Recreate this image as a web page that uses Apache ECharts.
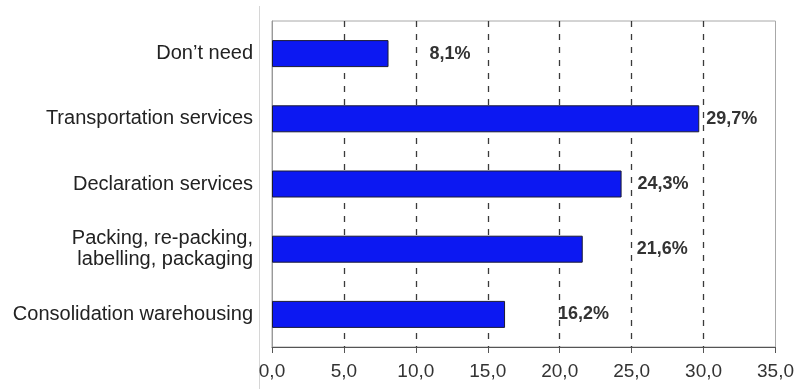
<!DOCTYPE html>
<html>
<head>
<meta charset="utf-8">
<style>
  html, body { margin: 0; padding: 0; background: #fff; }
  #chart { width: 797px; height: 389px; }
</style>
<script src="https://cdn.jsdelivr.net/npm/echarts@6/dist/echarts.min.js"></script>
</head>
<body>
<div id="chart"></div>
<script>
// Services needed (share of respondents, %)
const categories = [
  'Don\u2019t need',
  'Transportation services',
  'Declaration services',
  'Packing, re-packing,\nlabelling, packaging',
  'Consolidation warehousing'
];
const shares = [8.1, 29.7, 24.3, 21.6, 16.2];
const axisMin = 0;
const axisMax = 35;
const axisStep = 5;

// Gap in px between each bar's end and its value label
const labelGaps = [41, 7, 16, 54, 53];

const fmt = v => v.toFixed(1).replace('.', ',');
const FONT = '"Liberation Sans", Arial, sans-serif';

// split lines: hide the ones sitting on the frame edges
const nLines = Math.round((axisMax - axisMin) / axisStep) + 1;
const splitColors = [];
for (let i = 0; i < nLines; i++) {
  splitColors.push(i === 0 || i === nLines - 1 ? 'rgba(0,0,0,0)' : '#3a3a3a');
}

const chart = echarts.init(document.getElementById('chart'), null, { renderer: 'canvas' });

chart.setOption({
  animation: false,
  backgroundColor: '#ffffff',
  grid: {
    left: 272, top: 21, width: 504, height: 326,
    show: true, borderColor: '#a8a8a8', borderWidth: 1, backgroundColor: 'transparent'
  },
  xAxis: {
    type: 'value',
    min: axisMin, max: axisMax, interval: axisStep,
    axisLine: { show: true, lineStyle: { color: '#555', width: 1 } },
    axisTick: { show: true, length: 6, lineStyle: { color: '#555', width: 1 } },
    axisLabel: {
      formatter: v => fmt(v),
      fontFamily: FONT, fontSize: 19, color: '#333', margin: 15
    },
    splitLine: {
      show: true,
      lineStyle: { color: splitColors, type: [6, 7], width: 1.3 }
    }
  },
  yAxis: {
    type: 'category',
    data: categories,
    inverse: true,
    axisLine: { show: true, lineStyle: { color: '#999', width: 1 } },
    axisTick: { show: false },
    axisLabel: {
      fontFamily: FONT, fontSize: 20, color: '#222', margin: 19,
      lineHeight: 21, align: 'right'
    },
    splitLine: { show: false }
  },
  series: [{
    type: 'bar',
    barWidth: 27,
    data: shares.map((v, i) => ({
      value: v,
      label: { distance: labelGaps[i] }
    })),
    itemStyle: { color: '#0c18f2', borderColor: '#1b1b33', borderWidth: 1 },
    label: {
      show: true,
      position: 'right',
      formatter: p => fmt(p.value) + '%',
      fontFamily: FONT, fontSize: 18, fontWeight: 'bold', color: '#333'
    }
  }],
  graphic: [{
    type: 'line',
    shape: { x1: 259.5, y1: 6, x2: 259.5, y2: 389 },
    style: { stroke: '#d6d6d6', lineWidth: 1 },
    silent: true
  }]
});
</script>
</body>
</html>
